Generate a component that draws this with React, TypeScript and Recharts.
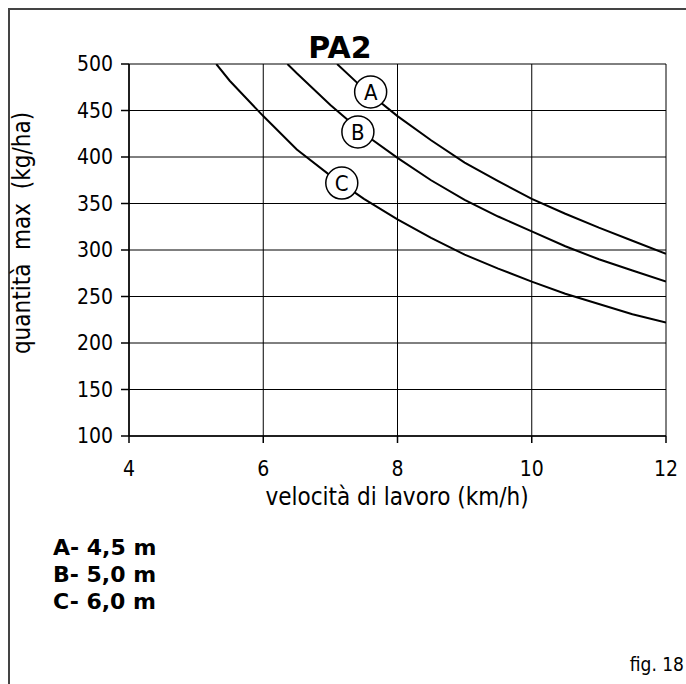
import { LineChart, Line, XAxis, YAxis, CartesianGrid, ReferenceDot } from 'recharts';

// velocità (km/h) e quantità max (kg/ha)
const speedA = [7.1, 7.5, 8, 8.5, 9, 9.5, 10, 10.5, 11, 11.5, 12];
const rateA = [500, 473, 444, 418, 394, 374, 355, 339, 324, 310, 296];
const speedB = [6.36, 6.5, 7, 7.5, 8, 8.5, 9, 9.5, 10, 10.5, 11, 11.5, 12];
const rateB = [500, 490, 456, 425, 399, 375, 354, 336, 320, 304, 290, 278, 266];
const speedC = [5.3, 5.5, 6, 6.5, 7, 7.5, 8, 8.5, 9, 9.5, 10, 10.5, 11, 11.5, 12];
const rateC = [500, 482, 444, 408, 380, 355, 333, 313, 295, 280, 266, 253, 242, 231, 222];

const markerNames = ['A', 'B', 'C'];
const markerX = [7.6, 7.41, 7.17];
const markerY = [470, 427, 372];

const xTicks = [4, 6, 8, 10, 12];
const yTicks = [100, 150, 200, 250, 300, 350, 400, 450, 500];
const legendLines = ['A- 4,5 m', 'B- 5,0 m', 'C- 6,0 m'];

const toPoints = (xs: number[], ys: number[]) => xs.map((v, i) => ({ v, q: ys[i] }));
const series = [toPoints(speedA, rateA), toPoints(speedB, rateB), toPoints(speedC, rateC)];

const font = '"DejaVu Sans Condensed", "DejaVu Sans", sans-serif';
const wide = '"DejaVu Sans", sans-serif';
const tickStyle = { fontSize: 21, fill: '#000', fontFamily: font };

export default function App() {
  return (
    <div style={{ position: 'relative', width: 686, height: 684, overflow: 'hidden', fontFamily: font, background: '#fff' }}>
      <style>{'body{margin:0}'}</style>
      <div style={{ position: 'absolute', left: 8, top: 8, width: 720, height: 720, border: '2px solid #444' }} />
      <div style={{ position: 'absolute', left: 340, top: 47, transform: 'translate(-50%,-50%)', fontSize: 30, fontWeight: 'bold', fontFamily: wide }}>PA2</div>
      <div style={{ position: 'absolute', left: 0, top: 0 }}>
        <LineChart width={686} height={520} margin={{ top: 64, right: 20, left: 69, bottom: 24 }}>
          <CartesianGrid stroke="#000" strokeWidth={1} />
          <XAxis
            type="number"
            dataKey="v"
            domain={[4, 12]}
            ticks={xTicks}
            allowDataOverflow
            height={60}
            tickSize={7}
            tickMargin={18}
            stroke="#000"
            strokeWidth={1.5}
            tick={tickStyle}
          />
          <YAxis
            type="number"
            dataKey="q"
            domain={[100, 500]}
            ticks={yTicks}
            allowDataOverflow
            width={60}
            tickSize={8}
            tickMargin={8}
            stroke="#000"
            strokeWidth={1.5}
            tick={tickStyle}
          />
          {series.map((d, i) => (
            <Line key={markerNames[i]} data={d} dataKey="q" type="linear" stroke="#000" strokeWidth={2} dot={false} isAnimationActive={false} />
          ))}
          {markerNames.map((n, i) => (
            <ReferenceDot
              key={n}
              x={markerX[i]}
              y={markerY[i]}
              r={16}
              fill="#fff"
              stroke="#000"
              strokeWidth={1.5}
              label={{ value: n, position: 'center', fontSize: 22, fill: '#000', fontFamily: font }}
            />
          ))}
        </LineChart>
      </div>
      <div style={{ position: 'absolute', left: 397, top: 497, transform: 'translate(-50%,-50%)', fontSize: 24, fontFamily: font, whiteSpace: 'nowrap' }}>
        velocità di lavoro (km/h)
      </div>
      <div style={{ position: 'absolute', left: 22, top: 233, transform: 'translate(-50%,-50%) rotate(-90deg)', fontSize: 24, fontFamily: font, whiteSpace: 'nowrap' }}>
        quantità&nbsp; max&nbsp; (kg/ha)
      </div>
      <div style={{ position: 'absolute', left: 53, top: 534, fontSize: 22, fontWeight: 'bold', fontFamily: wide, lineHeight: '27px' }}>
        {legendLines.map((t) => (
          <div key={t}>{t}</div>
        ))}
      </div>
      <div style={{ position: 'absolute', right: 2, top: 653, fontSize: 19 }}>fig. 18</div>
    </div>
  );
}
